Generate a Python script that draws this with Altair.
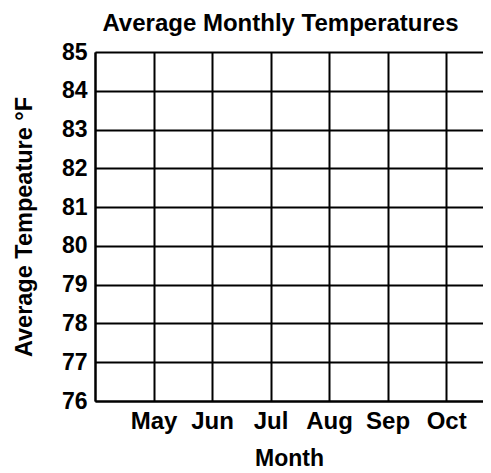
import altair as alt
import pandas as pd

# Data (the reference is an empty grid: no temperatures plotted)
months = ["May", "Jun", "Jul", "Aug", "Sep", "Oct"]
month_pos = [1, 2, 3, 4, 5, 6]
temps = [None, None, None, None, None, None]
y_ticks = [76, 77, 78, 79, 80, 81, 82, 83, 84, 85]
x_grid = [0, 1, 2, 3, 4, 5, 6]

df = pd.DataFrame({"month": months, "pos": month_pos, "temp": temps})

FONT = "Liberation Sans"
month_arr = "[" + ",".join("'" + m + "'" for m in months) + "]"
label_expr = f"datum.value >= 1 && datum.value <= {len(months)} ? {month_arr}[datum.value - 1] : ''"

chart = (
    alt.Chart(df)
    .mark_point(opacity=0)
    .encode(
        x=alt.X(
            "pos:Q",
            scale=alt.Scale(domain=[0, 6.63], nice=False, zero=False),
            axis=alt.Axis(
                values=x_grid,
                labelExpr=label_expr,
                grid=True,
                gridColor="black",
                gridWidth=2,
                gridOpacity=1,
                domain=True,
                domainColor="black",
                domainWidth=2,
                ticks=False,
                labelFont=FONT,
                labelFontSize=24,
                labelFontWeight="bold",
                labelColor="black",
                labelPadding=8,
                labelFlush=False,
                labelOverlap=False,
                title="Month",
                titleFont=FONT,
                titleFontSize=23,
                titleFontWeight="bold",
                titleColor="black",
                titlePadding=14,
            ),
        ),
        y=alt.Y(
            "temp:Q",
            scale=alt.Scale(domain=[76, 85], nice=False, zero=False),
            axis=alt.Axis(
                values=y_ticks,
                grid=True,
                gridColor="black",
                gridWidth=2,
                gridOpacity=1,
                domain=True,
                domainColor="black",
                domainWidth=2,
                ticks=False,
                labelFont=FONT,
                labelFontSize=23,
                labelFontWeight="bold",
                labelColor="black",
                labelPadding=8,
                labelFlush=False,
                labelOverlap=False,
                title="Average  Tempeature \u00b0F",
                titleFont=FONT,
                titleFontSize=23.5,
                titleFontWeight="bold",
                titleColor="black",
                titlePadding=25,
            ),
        ),
    )
    .properties(
        width=388,
        height=349,
        autosize=alt.AutoSizeParams(type="none"),
        padding={"left": 87, "top": 44, "right": 0, "bottom": 72},
        title=alt.Title(
            "Average Monthly Temperatures",
            anchor="start",
            dx=90,
            dy=-1,
            font=FONT,
            fontSize=24,
            fontWeight="bold",
            color="black",
        ),
    )
    .configure_view(strokeWidth=0)
)

chart.save("out.html", embed_options={"renderer": "svg", "actions": False})
